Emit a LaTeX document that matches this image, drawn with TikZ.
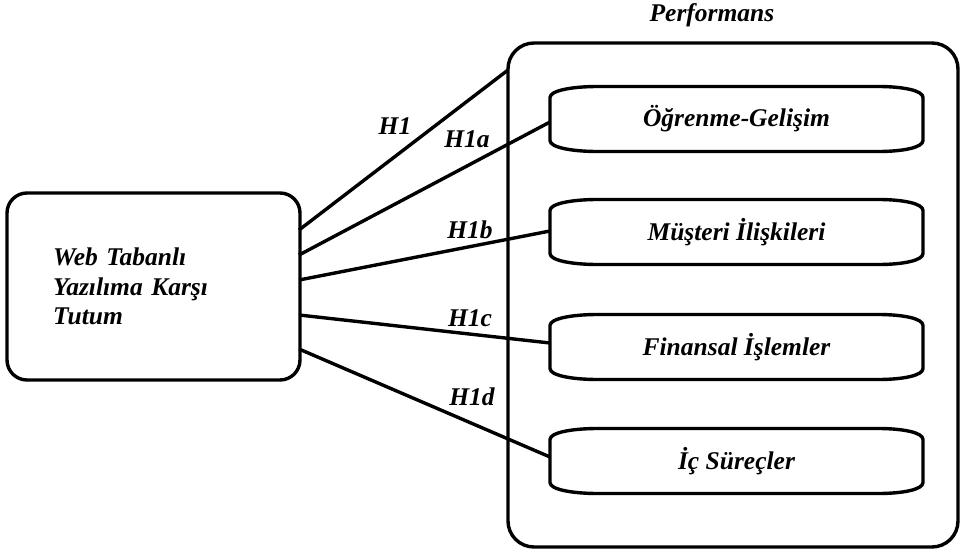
\documentclass[tikz,border=0pt]{standalone}
\usepackage{fontspec}
\setmainfont{Liberation Serif}
\usetikzlibrary{calc}
\newcommand\capsuleoutline[1]{%
  \draw[lw] ($(#1.north west)+(0,11)$)
    .. controls ($(#1.north west)+(0,4)$) and ($(#1.north west)+(22,0)$) .. ($(#1.north west)+(48,0)$)
    -- ($(#1.north east)+(-45,0)$)
    .. controls ($(#1.north east)+(-20,0)$) and ($(#1.north east)+(0,4)$) .. ($(#1.north east)+(0,11)$)
    -- ($(#1.south east)+(0,-11)$)
    .. controls ($(#1.south east)+(0,-4)$) and ($(#1.south east)+(-20,0)$) .. ($(#1.south east)+(-45,0)$)
    -- ($(#1.south west)+(48,0)$)
    .. controls ($(#1.south west)+(22,0)$) and ($(#1.south west)+(0,-4)$) .. ($(#1.south west)+(0,-11)$)
    -- cycle;}
\begin{document}
\begin{tikzpicture}[x=1pt,y=-1pt,
  lw/.style={line width=3.4pt, line join=round},
  txt/.style={font=\fontsize{25.5}{29.5}\selectfont\bfseries\itshape},
  lab/.style={txt, inner sep=0pt},
  inbox/.style={txt, minimum width=373pt, minimum height=65pt, outer sep=0pt, inner sep=0pt}]
\useasboundingbox (0,0) rectangle (962,552);
% left box
\node[lw, draw, rounded corners=20pt, minimum width=293pt, minimum height=187pt,
      outer sep=0pt, txt, align=left, text width=201pt] (L) at (153.5,286.5)
  {Web Tabanlı\\Yazılıma Karşı\\Tutum};
% big box
\node[lw, draw, rounded corners=26pt, minimum width=450pt, minimum height=504pt, outer sep=0pt] (P) at (733,295) {};
\node[lab] (title) at (712,15) {Performans};
% inner nodes
\node[inbox] (n1) at (736.5,119) {Öğrenme-Gelişim};
\node[inbox] (n2) at (736.5,232) {Müşteri İlişkileri};
\node[inbox] (n3) at (736.5,347) {Finansal İşlemler};
\node[inbox] (n4) at (736.5,461) {İç Süreçler};
\capsuleoutline{n1}
\capsuleoutline{n2}
\capsuleoutline{n3}
\capsuleoutline{n4}
% connector ends
\coordinate (s1) at ($(L.north east)+(-1,37)$);
\coordinate (s2) at ($(L.north east)+(-1,62)$);
\coordinate (s3) at ($(L.north east)+(-1,87)$);
\coordinate (s4) at ($(L.north east)+(-1,122)$);
\coordinate (s5) at ($(L.north east)+(-1,156)$);
\coordinate (e1) at ($(P.north west)+(0,27)$);
\draw[lw] (s1) -- (e1);
\draw[lw] (s2) -- ($(n1.west)+(0,3)$);
\draw[lw] (s3) -- ($(n2.west)+(0,-1)$);
\draw[lw] (s4) -- ($(n3.west)+(0,-4)$);
\draw[lw] (s5) -- ($(n4.west)+(0,-4)$);
% labels
\node[lab] (h1) at (395,126) {H1};
\node[lab] (h1a) at (467,139) {H1a};
\node[lab] (h1b) at (470,230) {H1b};
\node[lab] (h1c) at (470,318) {H1c};
\node[lab] (h1d) at (472,397) {H1d};
\end{tikzpicture}
\end{document}
